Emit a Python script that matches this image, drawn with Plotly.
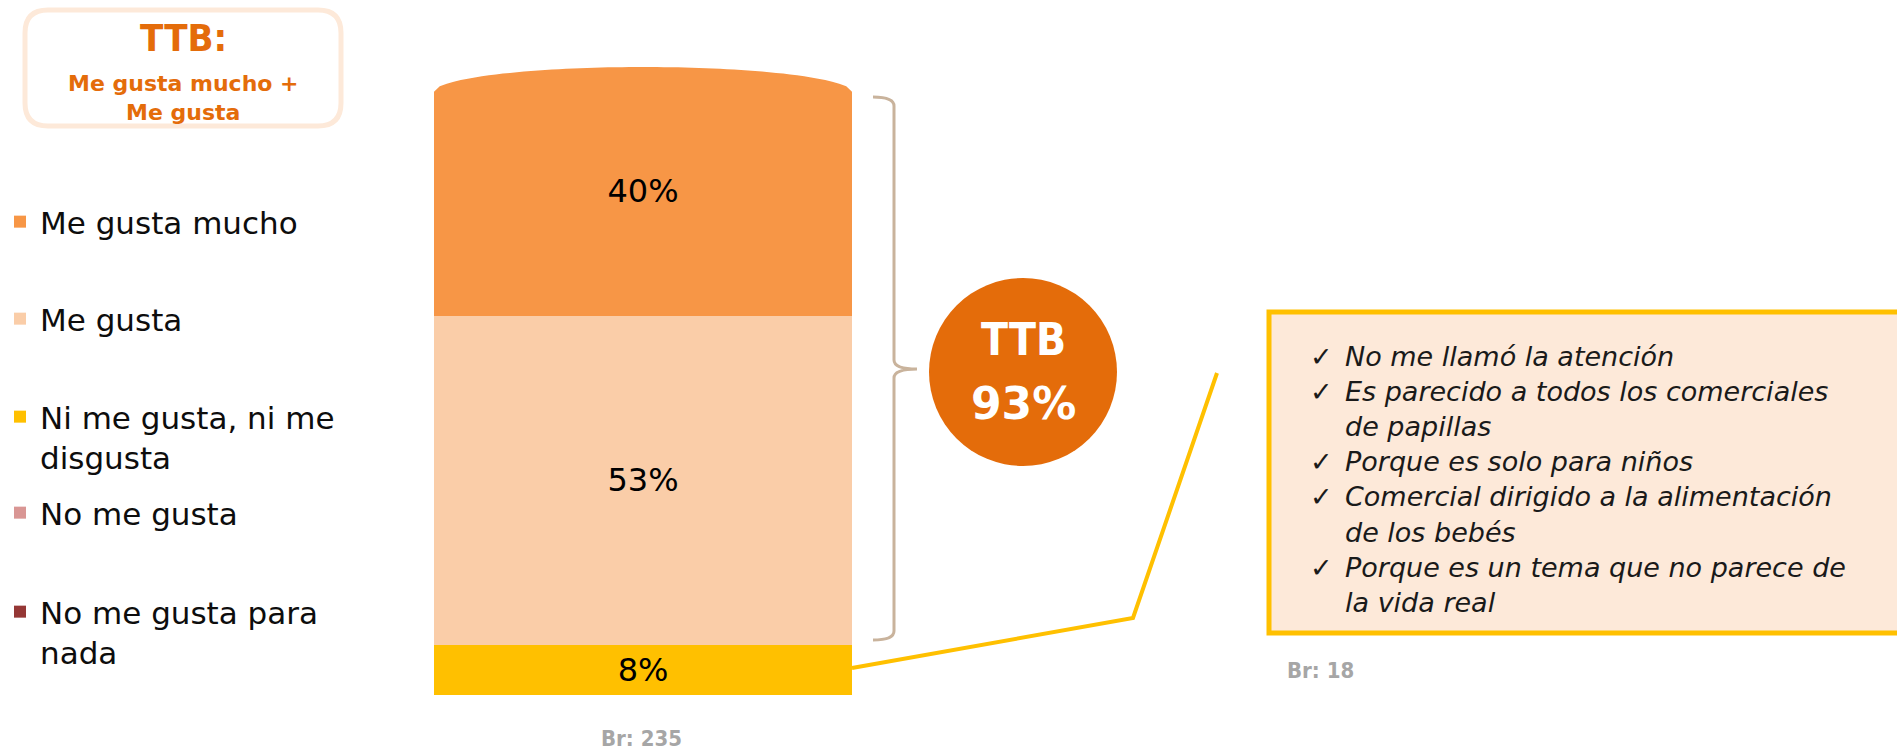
import numpy as np
import plotly.graph_objects as go

# ---------------- data ----------------
categories = ["Me gusta mucho", "Me gusta", "Ni me gusta, ni me<br>disgusta",
              "No me gusta", "No me gusta para<br>nada"]
values = [40, 53, 8, 0, 0]
colors = ["#F79646", "#FACDA8", "#FFC000", "#D99694", "#953735"]
ttb_value = 93
base_total = 235
reasons = ["No me llamó la atención",
           "Es parecido a todos los comerciales<br>de papillas",
           "Porque es solo para niños",
           "Comercial dirigido a la alimentación<br>de los bebés",
           "Porque es un tema que no parece de<br>la vida real"]
reason_base = 18

W, H = 1897, 752
NARROW = "Liberation Sans Narrow, DejaVu Sans Condensed, Roboto, sans-serif"


def px(x):
    return x / W


def py(y):
    return 1 - y / H


def ppath(points, close=False):
    s = "M " + " L ".join(f"{px(x):.5f},{py(y):.5f}" for x, y in points)
    return s + (" Z" if close else "")


fig = go.Figure()

# stacked bars (bottom to top: reversed list order)
legend_centers = [222, 319, 417, 513, 612]
order = list(range(len(values)))[::-1]
for i in order:
    v = values[i]
    lname = "legend" if i == 0 else f"legend{i+1}"
    fig.add_trace(go.Bar(
        x=[0], y=[v], width=1, name=categories[i],
        marker=dict(color=colors[i], line=dict(width=0)),
        text=[f"{v}%" if v > 0 else ""], textposition="inside",
        insidetextanchor="middle", textangle=0,
        textfont=dict(family="DejaVu Sans", size=32, color="#000000"),
        legend=lname, showlegend=True, hoverinfo="skip",
    ))

total = sum(values)
# axis geometry: value 0 at 695px, total at 67px
y0_px, ytop_px = 695, 67
k = (y0_px - ytop_px) / total
yr = [-(H - y0_px) / k, y0_px / k]

layout_legends = {}
for i, c in enumerate(legend_centers):
    lname = "legend" if i == 0 else f"legend{i+1}"
    layout_legends[lname] = dict(
        x=0.0, xanchor="left", y=py(c - 27), yanchor="top",
        font=dict(family="DejaVu Sans", size=31, color="#0D0D0D"),
        bgcolor="rgba(0,0,0,0)", borderwidth=0, valign="top",
        itemclick=False, itemdoubleclick=False,
    )

shapes = []
# curved top of the bar (white mask over the corners)
d = 26 / k
u = np.linspace(-1, 1, 61)
arc_y = total - d * (1 - np.sqrt(1 - u ** 2))
pts = [(-0.503, total + 2)] + [(0.503 * uu, yy) for uu, yy in zip(u, arc_y)] + [(0.503, total + 2)]
shapes.append(dict(type="path", xref="x", yref="y", layer="above",
                   path="M " + " L ".join(f"{a:.5f},{b:.4f}" for a, b in pts) + " Z",
                   fillcolor="white", line=dict(width=0)))

# brace
brace = (f"M {px(873)},{py(97)} Q {px(894)},{py(97)} {px(894)},{py(106)} "
         f"L {px(894)},{py(360)} Q {px(894)},{py(369)} {px(917)},{py(369)} "
         f"Q {px(894)},{py(369)} {px(894)},{py(378)} "
         f"L {px(894)},{py(631)} Q {px(894)},{py(640)} {px(873)},{py(640)}")
shapes.append(dict(type="path", xref="paper", yref="paper", path=brace,
                   line=dict(color="#C9B39C", width=3)))

# TTB circle
cx, cy, r = 1023, 372, 94
shapes.append(dict(type="circle", xref="paper", yref="paper",
                   x0=px(cx - r), x1=px(cx + r), y0=py(cy + r), y1=py(cy - r),
                   fillcolor="#E46C0A", line=dict(width=0)))

# top-left title box
shapes.append(dict(type="path", xref="paper", yref="paper",
                   path=(f"M {px(48)},{py(10)} L {px(318)},{py(10)} Q {px(341)},{py(10)} {px(341)},{py(33)} "
                         f"L {px(341)},{py(103)} Q {px(341)},{py(126)} {px(318)},{py(126)} "
                         f"L {px(48)},{py(126)} Q {px(25)},{py(126)} {px(25)},{py(103)} "
                         f"L {px(25)},{py(33)} Q {px(25)},{py(10)} {px(48)},{py(10)} Z"),
                   fillcolor="white", line=dict(color="#FDE9D9", width=5)))

# callout line
shapes.append(dict(type="path", xref="paper", yref="paper",
                   path=ppath([(852, 668), (1133, 618), (1217, 373)]),
                   line=dict(color="#FFC000", width=4)))

# reasons box
shapes.append(dict(type="rect", xref="paper", yref="paper",
                   x0=px(1269), x1=px(1910), y0=py(633), y1=py(312),
                   fillcolor="#FDE9D9", line=dict(color="#FFC000", width=5)))


def ann(x, y, text, font, xanchor="center", yanchor="middle", align="center"):
    return dict(x=px(x), y=py(y), xref="paper", yref="paper", showarrow=False,
                xanchor=xanchor, yanchor=yanchor, align=align, text=text, font=font)


annotations = [
    ann(183, 38, "<b>TTB:</b>", dict(family=NARROW, size=38, color="#E46C0A")),
    ann(183, 98, "<b>Me gusta mucho +<br>Me gusta</b>",
        dict(family="DejaVu Sans", size=22, color="#E46C0A")),
    ann(cx, 339, "<b>TTB</b>", dict(family=NARROW, size=44, color="white")),
    ann(cx, 403, f"<b>{ttb_value}%</b>", dict(family="DejaVu Sans", size=44, color="white")),
    ann(641, 738, f"<b>Br: {base_total}</b>", dict(family=NARROW, size=22, color="#A6A6A6")),
    ann(1320, 670, f"<b>Br: {reason_base}</b>", dict(family=NARROW, size=22, color="#A6A6A6")),
]

lines, checks = [], []
for rsn in reasons:
    parts = rsn.split("<br>")
    for j, p in enumerate(parts):
        lines.append(f"<i>{p}</i>")
        checks.append("<b>✓</b>" if j == 0 else "\u00a0")
annotations.append(ann(1343, 479, "<br>".join(lines),
                       dict(family="DejaVu Sans", size=27, color="#1A1A1A"),
                       xanchor="left", align="left"))
annotations.append(ann(1308, 479, "<br>".join(checks),
                       dict(family="DejaVu Sans", size=27, color="#1A1A1A"),
                       xanchor="left", align="left"))

fig.update_layout(
    width=W, height=H, autosize=False,
    margin=dict(l=0, r=0, t=0, b=0, pad=0),
    paper_bgcolor="white", plot_bgcolor="white",
    barmode="stack", showlegend=True,
    xaxis=dict(domain=[px(434), px(852)], range=[-0.5, 0.5], visible=False, fixedrange=True),
    yaxis=dict(domain=[0, 1], range=yr, visible=False, fixedrange=True),
    shapes=shapes, annotations=annotations,
    **layout_legends,
)

fig.write_html("out.html", config={"displayModeBar": False},
               post_script="document.body.style.margin='0';document.body.style.overflow='hidden';")
